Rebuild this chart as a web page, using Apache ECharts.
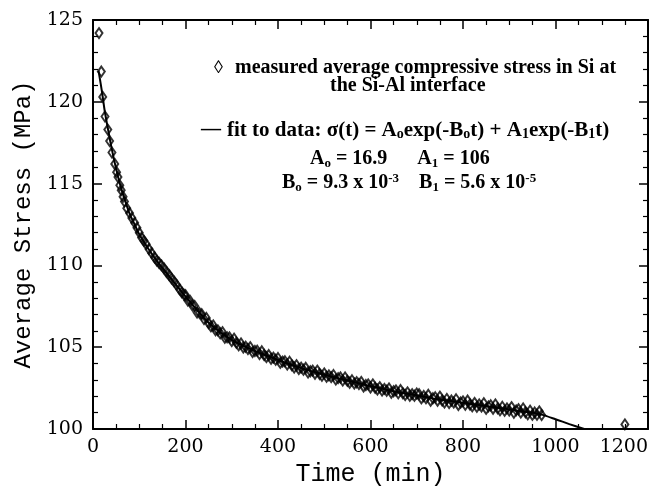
<!DOCTYPE html>
<html>
<head>
<meta charset="utf-8">
<script src="https://cdn.jsdelivr.net/npm/echarts@6/dist/echarts.min.js"></script>
<style>html,body{margin:0;padding:0;background:#fff;}#c{width:651px;height:492px;}</style>
</head>
<body>
<div id="c"></div>
<script>
// ---- data ----
var timeMin = [13,18,21,26,32,36,41,47,51,54,58,61,65,68,73,79,84,90,95,100,105,110,115,121,127,133,138,143,148,154,159,165,170,176,181,187,192,197,
200,205,210,215,220,225,230,235,240,245,250,255,260,265,270,275,280,285,290,295,300,305,310,315,320,325,330,335,340,345,350,355,360,365,370,375,380,385,390,395,
400,405,410,415,420,425,430,435,440,445,450,455,460,465,470,475,480,485,490,495,500,505,510,515,520,525,530,535,540,545,550,555,560,565,570,575,580,585,590,595,
600,605,610,615,620,625,630,635,640,645,650,655,660,665,670,675,680,685,690,695,700,705,710,715,720,725,730,735,740,745,750,755,760,765,770,775,780,785,790,795,
800,805,810,815,820,825,830,835,840,845,850,855,860,865,870,875,880,885,890,895,900,905,910,915,920,925,930,935,940,945,950,955,960,965,970,1150];
var stressMPa = [124.2,121.85,120.3,119.1,118.3,117.6,116.9,116.2,115.7,115.4,114.9,114.6,114.2,113.9,113.5,113.2,112.9,112.6,112.3,112.0,111.7,111.5,111.3,111.0,110.75,110.5,110.3,110.15,110.0,109.8,109.6,109.4,109.2,109.0,108.8,108.55,108.35,108.2,
108.18,107.85,107.83,107.55,107.52,107.12,107.10,107.02,106.72,106.79,106.47,106.27,106.33,106.03,106.03,105.85,105.92,105.57,105.60,105.60,105.37,105.52,105.27,105.12,105.23,104.98,105.03,104.89,105.00,104.70,104.77,104.79,104.58,104.75,104.52,104.39,104.52,104.29,104.36,104.23,
104.34,104.04,104.12,104.14,103.94,104.11,103.89,103.76,103.90,103.67,103.75,103.62,103.74,103.45,103.53,103.57,103.38,103.57,103.36,103.25,103.40,103.19,103.28,103.17,103.30,103.02,103.11,103.15,102.96,103.15,102.94,102.83,102.98,102.77,102.86,102.75,102.88,102.60,102.69,102.73,
102.54,102.73,102.52,102.41,102.56,102.35,102.45,102.34,102.48,102.21,102.31,102.36,102.18,102.38,102.18,102.08,102.24,102.03,102.13,102.03,102.17,102.13,101.87,102.02,101.88,102.09,101.73,101.88,101.94,101.73,101.98,101.74,101.62,101.84,101.59,101.74,101.61,101.82,101.47,101.62,
101.69,101.48,101.74,101.50,101.38,101.60,101.35,101.50,101.37,101.58,101.23,101.38,101.45,101.24,101.50,101.26,101.14,101.36,101.11,101.26,101.13,101.34,100.99,101.14,101.21,101.00,101.26,101.02,100.90,101.12,100.86,101.01,100.87,101.08,100.85,100.28];
var fitTime   = [12,20,25,30,40,50,60,70,80,90,100,120,140,160,180,200,250,300,350,400,450,500,550,600,650,700,750,800,850,900,950,970,1000,1030,1062];
var fitStress = [121.9,120.5,119.5,118.7,117.2,115.9,114.8,113.9,113.1,112.5,111.9,111.0,110.2,109.5,108.8,108.1,106.5,105.45,104.77,104.22,103.72,103.32,102.97,102.62,102.31,102.05,101.80,101.60,101.40,101.20,100.99,100.88,100.6,100.3,100.0];
var xTicks = {min: 0, max: 1200, interval: 200};
var yTicks = {min: 100, max: 125, interval: 5};

var scatterData = timeMin.map(function (t, i) { return [t, stressMPa[i]]; });
var fitData = fitTime.map(function (t, i) { return [t, fitStress[i]]; });

var chart = echarts.init(document.getElementById('c'), null, {renderer: 'canvas'});
var axisCommon = {
  type: 'value',
  axisLine: {show: true, onZero: false, lineStyle: {color: '#000', width: 2}},
  axisTick: {show: true, inside: true, length: 9, lineStyle: {color: '#000', width: 1.5}},
  splitLine: {show: false}
};
function mk(extra) { return Object.assign(JSON.parse(JSON.stringify(axisCommon)), extra); }
function plain(v) { return String(v); }
var serif = 'DejaVu Serif';
var legendFont = 'Liberation Serif';
var sub = {fontFamily: legendFont, fontWeight: 'bold', fontSize: 13, verticalAlign: 'bottom', lineHeight: 13, fill: '#000'};
var sub2 = {fontFamily: legendFont, fontWeight: 'bold', fontSize: 14, verticalAlign: 'bottom', lineHeight: 13, fill: '#000'};
var sup = {fontFamily: legendFont, fontWeight: 'bold', fontSize: 13, verticalAlign: 'top', lineHeight: 13, fill: '#000'};
var nrm = {fontFamily: legendFont, fontWeight: 'bold', fontSize: 20, lineHeight: 22, fill: '#000'};
var nrm2 = {fontFamily: legendFont, fontWeight: 'bold', fontSize: 21, lineHeight: 22, fill: '#000'};
var lf = 'bold 20px "Liberation Serif"';

chart.setOption({
  animation: false,
  backgroundColor: '#fff',
  grid: {left: 93, right: 3, top: 20, bottom: 55, containLabel: false},
  xAxis: [
    mk({position: 'bottom', min: xTicks.min, max: xTicks.max, interval: xTicks.interval,
        minorTick: {show: true, splitNumber: 4, length: 5, lineStyle: {color: '#000', width: 1.2}},
        axisLabel: {color: '#000', fontFamily: serif, fontSize: 19, margin: 9, alignMaxLabel: 'right', formatter: plain},
        name: 'Time (min)', nameLocation: 'middle', nameGap: 33,
        nameTextStyle: {color: '#000', fontFamily: 'Liberation Mono', fontSize: 25}}),
    mk({position: 'top', min: xTicks.min, max: xTicks.max, interval: xTicks.interval,
        minorTick: {show: true, splitNumber: 4, length: 5, lineStyle: {color: '#000', width: 1.2}},
        axisLabel: {show: false}})
  ],
  yAxis: [
    mk({position: 'left', min: yTicks.min, max: yTicks.max, interval: yTicks.interval,
        minorTick: {show: true, splitNumber: 5, length: 5, lineStyle: {color: '#000', width: 1.2}},
        axisLabel: {color: '#000', fontFamily: serif, fontSize: 19, margin: 10, formatter: plain},
        name: 'Average Stress (MPa)', nameLocation: 'middle', nameGap: 56,
        nameTextStyle: {color: '#000', fontFamily: 'Liberation Mono', fontSize: 24}}),
    mk({position: 'right', min: yTicks.min, max: yTicks.max, interval: yTicks.interval,
        minorTick: {show: true, splitNumber: 5, length: 5, lineStyle: {color: '#000', width: 1.2}},
        axisLabel: {show: false}})
  ],
  series: [
    {type: 'scatter', data: scatterData, symbol: 'diamond', symbolSize: [7, 10], z: 2,
     itemStyle: {color: 'rgba(255,255,255,0)', borderColor: '#000', borderWidth: 2}},
    {type: 'line', data: fitData, showSymbol: false, symbol: 'none', smooth: 0.3, z: 3, clip: true,
     lineStyle: {color: '#000', width: 2}}
  ],
  graphic: [
    {type: 'text', left: 214, top: 59, style: {text: '\u25CA', font: 'bold 18px "Liberation Serif"', fill: '#000'}},
    {type: 'text', left: 235, top: 58, style: {text: 'measured average compressive stress in Si at', font: lf, fill: '#000'}},
    {type: 'text', left: 330, top: 76, style: {text: 'the Si-Al interface', font: lf, fill: '#000'}},
    {type: 'text', left: 201, top: 120, style: {text: '\u2014', font: lf, fill: '#000'}},
    {type: 'text', left: 227, top: 120, style: {
      text: '{n|fit to data: \u03C3(t) = A}{s|o}{n|exp(-B}{s|o}{n|t) + A}{s|1}{n|exp(-B}{s|1}{n|t)}',
      rich: {n: nrm2, s: sub2}}},
    {type: 'text', left: 310, top: 149, style: {
      text: '{n|A}{s|o}{n| = 16.9      A}{s|1}{n| = 106}', rich: {n: nrm, s: sub}}},
    {type: 'text', left: 282, top: 172, style: {
      text: '{n|B}{s|o}{n| = 9.3 x 10}{p|-3}{n|    B}{s|1}{n| = 5.6 x 10}{p|-5}', rich: {n: nrm, s: sub, p: sup}}}
  ]
});
</script>
</body>
</html>
